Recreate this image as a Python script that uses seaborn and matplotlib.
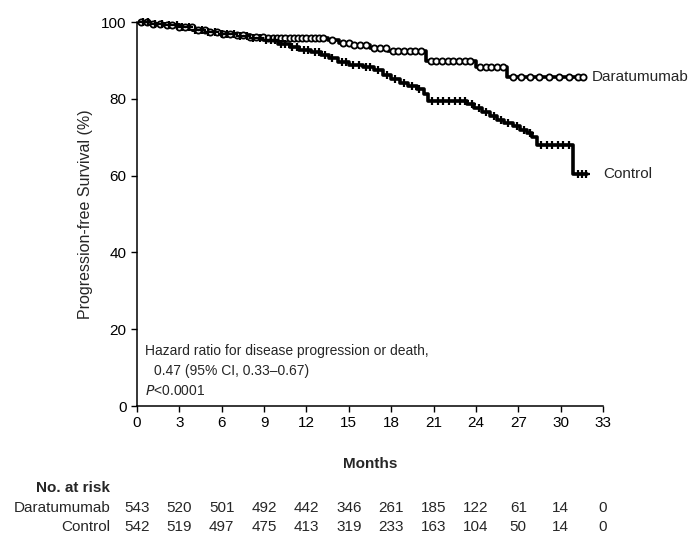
import numpy as np
import pandas as pd
import seaborn as sns
from matplotlib import pyplot as plt
import matplotlib.transforms as mtransforms

# Kaplan-Meier steps (months, % progression-free)
dara_t = [0, 1, 2, 3, 4, 5, 6, 7, 8, 9, 13.5, 14.3, 15.1, 16.5, 17.8, 20.5, 24.0, 26.2, 31.6]
dara_s = [100, 99.6, 99.2, 98.6, 98.0, 97.5, 97.0, 96.6, 96.2, 95.8, 95.2, 94.6, 94.0, 93.3,
          92.5, 89.9, 88.3, 85.8, 85.8]

ctrl_t = [0, 1, 2, 3, 4, 5, 6, 7, 8, 9, 10, 10.8, 11.5, 12.3, 13, 13.6, 14.2, 15, 16, 16.8,
          17.4, 18, 18.6, 19.2, 19.8, 20.3, 20.6, 23.4, 23.9, 24.4, 25, 25.5, 26, 26.6, 27.1,
          27.6, 28.0, 28.3, 30.9, 31.9]
ctrl_s = [100, 99.6, 99.2, 98.6, 98.0, 97.4, 96.9, 96.4, 95.9, 95.4, 94.4, 93.4, 92.8, 92.2,
          91.4, 90.6, 89.7, 88.8, 88.2, 87.4, 86.2, 85.2, 84.2, 83.4, 82.6, 81.2, 79.4, 78.6,
          77.6, 76.6, 75.6, 74.6, 73.8, 73.0, 72.0, 71.0, 70.0, 68.0, 60.5, 60.5]

# censored observations (months)
dara_cens = [0.3, 0.7, 1.1, 1.6, 2.1, 2.5, 3.0, 3.4, 3.9, 4.3, 4.8, 5.2, 5.7, 6.1, 6.6, 7.1,
             7.5, 8.0, 8.4, 8.9, 9.3, 9.6, 9.9, 10.2, 10.5, 10.8, 11.1, 11.4, 11.7, 12.0,
             12.3, 12.6, 12.9, 13.2, 13.8, 14.6, 15.0, 15.4, 15.8, 16.2, 16.8, 17.2, 17.6,
             18.1, 18.5, 18.9, 19.3, 19.7, 20.1, 20.8, 21.2, 21.6, 22.0, 22.4, 22.8, 23.2,
             23.6, 24.3, 24.7, 25.1, 25.5, 25.9, 26.6, 27.2, 27.8, 28.5, 29.2, 29.9, 30.6,
             31.2, 31.6]
ctrl_cens = [0.4, 0.8, 1.3, 1.8, 2.3, 2.8, 3.2, 3.7, 4.1, 4.6, 5.0, 5.5, 6.0, 6.4, 6.9, 7.3,
             7.8, 8.2, 8.7, 9.1, 9.5, 9.8, 10.2, 10.5, 11.0, 11.3, 11.8, 12.1, 12.6, 12.9,
             13.3, 13.8, 14.5, 14.8, 15.3, 15.7, 16.2, 16.5, 17.1, 17.7, 18.3, 18.9, 19.5,
             20.0, 20.9, 21.3, 21.7, 22.1, 22.5, 22.9, 23.2, 23.7, 24.2, 24.7, 25.3, 25.8,
             26.3, 26.9, 27.4, 27.8, 28.6, 29.0, 29.4, 29.8, 30.2, 30.6, 31.2, 31.5, 31.8]

risk_times = [0, 3, 6, 9, 12, 15, 18, 21, 24, 27, 30, 33]
risk_dara = [543, 520, 501, 492, 442, 346, 261, 185, 122, 61, 14, 0]
risk_ctrl = [542, 519, 497, 475, 413, 319, 233, 163, 104, 50, 14, 0]


def step_at(times, surv, x):
    idx = np.searchsorted(times, x, side='right') - 1
    return np.array(surv)[idx]


sns.set_theme(style='ticks')
plt.rcParams['font.family'] = ['Liberation Sans Narrow', 'Liberation Sans', 'DejaVu Sans']
plt.rcParams['font.size'] = 11

df = pd.concat([
    pd.DataFrame({'Months': dara_t, 'Surv': dara_s, 'Arm': 'Daratumumab'}),
    pd.DataFrame({'Months': ctrl_t, 'Surv': ctrl_s, 'Arm': 'Control'}),
])

fig = plt.figure(figsize=(6.94, 5.36), dpi=100)
ax = fig.add_axes([137 / 694, 1 - 406 / 536, 466 / 694, 384 / 536])

sns.lineplot(data=df, x='Months', y='Surv', hue='Arm', estimator=None, sort=False,
             palette={'Daratumumab': 'black', 'Control': 'black'},
             drawstyle='steps-post', linewidth=2.6, legend=False, ax=ax)

cens_dara = pd.DataFrame({'x': dara_cens, 'y': step_at(dara_t, dara_s, dara_cens)})
cens_ctrl = pd.DataFrame({'x': ctrl_cens, 'y': step_at(ctrl_t, ctrl_s, ctrl_cens)})
sns.scatterplot(data=cens_dara, x='x', y='y', marker='o', s=20, facecolor='white',
                edgecolor='black', linewidth=1.3, ax=ax, zorder=3, clip_on=False)
sns.scatterplot(data=cens_ctrl, x='x', y='y', marker='+', s=30, color='black',
                linewidth=1.6, ax=ax, zorder=3, clip_on=False)

ax.set_xlim(0, 33)
ax.set_ylim(0, 100)
ax.set_xticks(risk_times)
ax.set_yticks([0, 20, 40, 60, 80, 100])
ax.tick_params(axis='both', direction='out', length=4, width=1, labelsize=11, colors='black')
for s in ['left', 'bottom']:
    ax.spines[s].set_linewidth(1.1)
    ax.spines[s].set_color('black')
sns.despine(ax=ax)
ax.set_xlabel('Months', fontsize=11, fontweight='bold', labelpad=19)
ax.set_ylabel('Progression-free Survival (%)', fontsize=11.5, labelpad=6)

ax.text(32.2, 85.8, 'Daratumumab', fontsize=11, va='center', ha='left', clip_on=False)
ax.text(33.0, 60.5, 'Control', fontsize=11, va='center', ha='left', clip_on=False)

ax.text(0.55, 14.2, 'Hazard ratio for disease progression or death,', fontsize=10, va='center')
ax.text(1.2, 9.0, '0.47 (95% CI, 0.33\u20130.67)', fontsize=10, va='center')
ax.text(0.55, 3.8, '$\\mathit{P}$<0.0001', fontsize=10, va='center')

trans = mtransforms.blended_transform_factory(ax.transData, ax.transAxes)
ax.text(-1.9, -0.214, 'No. at risk', fontsize=11, fontweight='bold', ha='right',
        va='center', transform=trans)
ax.text(-1.9, -0.266, 'Daratumumab', fontsize=11, ha='right', va='center', transform=trans)
ax.text(-1.9, -0.315, 'Control', fontsize=11, ha='right', va='center', transform=trans)
for t, a, b in zip(risk_times, risk_dara, risk_ctrl):
    ax.text(t, -0.266, str(a), fontsize=11, ha='center', va='center', transform=trans)
    ax.text(t, -0.315, str(b), fontsize=11, ha='center', va='center', transform=trans)

fig.savefig('out.png', dpi=100)
